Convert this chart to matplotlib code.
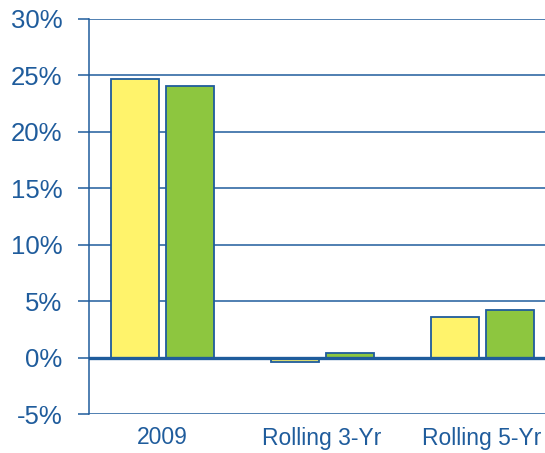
import matplotlib
matplotlib.use("Agg")
import matplotlib.pyplot as plt
import numpy as np

categories = ["2009", "Rolling 3-Yr", "Rolling 5-Yr"]
series_a = [24.7, -0.4, 3.6]
series_b = [24.1, 0.4, 4.2]
yticks = [-5, 0, 5, 10, 15, 20, 25, 30]

blue = "#1f5c9c"
plt.rcParams["font.family"] = ["Liberation Sans", "DejaVu Sans"]

fig = plt.figure(figsize=(5.45, 4.53), dpi=100)
ax = fig.add_axes([89 / 545, 39 / 453, 1 - 89 / 545, 395 / 453])

x = np.arange(len(categories))
w = 0.30
ax.bar(x - 0.17, series_a, w, color="#fff36b", edgecolor=blue, linewidth=1.3, zorder=3)
ax.bar(x + 0.175, series_b, w, color="#8dc63f", edgecolor=blue, linewidth=1.3, zorder=3)

ax.set_xlim(-0.456, 2.394)
ax.set_ylim(-5, 30)
ax.set_yticks(yticks)
ax.set_yticklabels([f"{v}%" for v in yticks])
ax.set_xticks(x)
ax.set_xticklabels(categories)

for v in yticks:
    ax.axhline(v, color=blue, linewidth=2.4 if v == 0 else 1.1, zorder=4 if v == 0 else 1)

for s in ["top", "right", "bottom"]:
    ax.spines[s].set_visible(False)
ax.spines["left"].set_color(blue)
ax.spines["left"].set_linewidth(1.1)

ax.tick_params(axis="y", colors=blue, labelsize=18.5, length=8, width=1.1, pad=11)
ax.tick_params(axis="x", colors=blue, labelsize=16.5, length=0, pad=9)
for t in ax.get_xticklabels() + ax.get_yticklabels():
    t.set_color(blue)

fig.savefig("out.png", dpi=100)
